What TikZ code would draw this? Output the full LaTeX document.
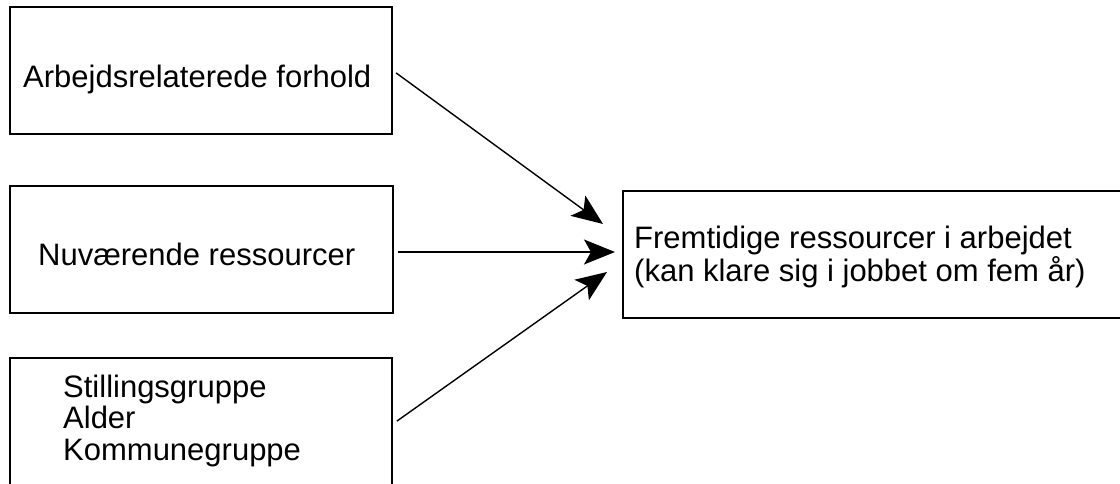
\documentclass[tikz,border=0pt]{standalone}
\usepackage{fontspec}
\setmainfont{Liberation Sans}
\usetikzlibrary{arrows.meta}
\begin{document}
\begin{tikzpicture}[x=1pt,y=-1pt,
  box/.style={draw, line width=1.6pt, rectangle, inner sep=0pt},
  lbl/.style={anchor=base west, inner sep=0pt, font=\fontsize{31}{33}\selectfont},
  arr/.style={line width=1.4pt, -{Stealth[length=31pt,width=25pt,inset=7pt]}}]
\useasboundingbox (0,0) rectangle (1120,483);
\clip (0,0) rectangle (1120,483);
\fill[white] (0,0) rectangle (1120,483);
% boxes
\node[box, minimum width=382pt, minimum height=127pt] (b1) at (201,70.5) {};
\node[box, minimum width=383pt, minimum height=127pt] (b2) at (201.5,249.5) {};
\node[box, minimum width=382pt, minimum height=132pt] (b3) at (201,424) {};
\node[box, minimum width=510pt, minimum height=127pt] (r) at (878,254.5) {};
% texts
\node[lbl] (l1) at (23,87) {Arbejdsrelaterede forhold};
\node[lbl] (l2) at (38,265) {Nuværende ressourcer};
\node[lbl] (l3a) at (63,397) {Stillingsgruppe};
\node[lbl] (l3b) at (63,428.5) {Alder};
\node[lbl] (l3c) at (63,460) {Kommunegruppe};
\node[lbl] (r1) at (634,248) {Fremtidige ressourcer i arbejdet};
\node[lbl] (r2) at (634,281) {(kan klare sig i jobbet om fem år)};
% arrow targets
\coordinate (t1) at (603,224);
\coordinate (t2) at (615,252);
\coordinate (t3) at (607,272);
\draw[arr, shorten <=4pt] (b1.east) -- (t1);
\draw[arr, shorten <=4pt] (b2.east |- t2) -- (t2);
\draw[arr, shorten <=5pt] (b3.east) -- (t3);
\end{tikzpicture}
\end{document}
